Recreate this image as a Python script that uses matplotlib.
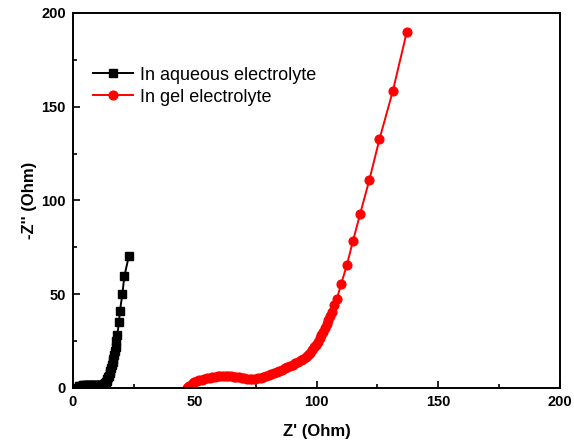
import matplotlib.pyplot as plt
from matplotlib.ticker import MultipleLocator

plt.rcParams['font.family'] = ['Liberation Sans', 'DejaVu Sans']

# Nyquist data, aqueous electrolyte
aq_re = [2.0, 2.3, 2.7, 3.1, 3.6, 4.1, 4.6, 5.1, 5.6, 6.1,
         6.6, 7.1, 7.6, 8.1, 8.6, 9.1, 9.6, 10.1, 10.6, 11.1,
         11.6, 12.1, 12.5, 12.9, 13.3, 13.6, 13.9, 14.2, 14.5, 14.8,
         15.1, 15.4, 15.7, 16.0, 16.3, 16.6, 16.9, 17.2, 17.5, 17.8,
         18.2, 18.9, 19.3, 20.3, 21.1, 23.0]
aq_im = [0.0, 0.4, 0.8, 1.1, 1.3, 1.5, 1.6, 1.7, 1.7, 1.7,
         1.7, 1.6, 1.6, 1.5, 1.5, 1.5, 1.4, 1.4, 1.4, 1.4,
         1.5, 1.6, 1.8, 2.1, 2.6, 3.2, 3.9, 4.7, 5.6, 6.6,
         7.8, 9.1, 10.5, 12.0, 13.7, 15.5, 17.5, 19.7, 22.1, 24.8,
         28.0, 35.0, 41.0, 50.0, 59.5, 70.6]

# Nyquist data, gel electrolyte
gel_re = [47.0, 47.3, 47.8, 48.4, 49.1, 49.9, 50.8, 51.8, 52.8, 53.9,
          55.0, 56.1, 57.2, 58.3, 59.4, 60.5, 61.6, 62.7, 63.8, 64.9,
          66.0, 67.1, 68.2, 69.3, 70.4, 71.5, 72.6, 73.7, 74.8,
          75.9, 77.0, 78.1, 79.2, 80.3, 81.4, 82.5, 83.6, 84.7, 85.8,
          86.9, 88.0, 89.1, 90.2, 91.3, 92.4, 93.5, 94.5, 95.5, 96.4,
          97.3, 98.2, 99.0, 99.8, 100.6, 101.3, 102.0, 102.7, 103.4, 104.1,
          104.8, 105.5, 106.2,
          107.2, 108.3, 110.1, 112.4, 114.9, 117.9, 121.6, 125.8, 131.3, 137.0]
gel_im = [0.0, 0.6, 1.2, 1.8, 2.4, 3.0, 3.5, 4.0, 4.4, 4.8,
          5.2, 5.5, 5.8, 6.0, 6.2, 6.3, 6.4, 6.4, 6.3, 6.2,
          6.0, 5.8, 5.6, 5.3, 5.1, 4.9, 4.8, 4.7, 4.8,
          5.1, 5.5, 6.0, 6.5, 7.0, 7.5, 8.0, 8.6, 9.2, 9.8,
          10.4, 11.0, 11.7, 12.4, 13.1, 13.9, 14.7, 15.6, 16.6, 17.7,
          18.9, 20.2, 21.6, 23.1, 24.7, 26.4, 28.2, 30.1, 32.1, 34.2,
          36.4, 38.4, 40.5,
          44.0, 47.4, 55.5, 65.4, 78.2, 92.9, 110.7, 132.6, 158.4, 189.7]

fig = plt.figure(figsize=(5.74, 4.48), dpi=100)
ax = fig.add_axes([0.127, 0.134, 0.849, 0.837])

ax.plot(aq_re, aq_im, color='black', marker='s', markersize=5.4, lw=1.4,
        label='In aqueous electrolyte')
ax.plot(gel_re, gel_im, color='red', marker='o', markersize=6.3, lw=1.4,
        label='In gel electrolyte')

ax.set_xlim(0, 200)
ax.set_ylim(0, 200)
ax.xaxis.set_major_locator(MultipleLocator(50))
ax.xaxis.set_minor_locator(MultipleLocator(25))
ax.yaxis.set_major_locator(MultipleLocator(50))
ax.yaxis.set_minor_locator(MultipleLocator(25))
ax.tick_params(which='both', direction='in', width=1.2, top=False, right=False)
ax.tick_params(which='major', length=5, labelsize=10.5, pad=5)
ax.tick_params(which='minor', length=3)
for lab in ax.get_xticklabels() + ax.get_yticklabels():
    lab.set_fontweight('bold')
for sp in ax.spines.values():
    sp.set_linewidth(1.4)

ax.set_xlabel("Z' (Ohm)", fontsize=12, fontweight='bold', labelpad=11)
ax.set_ylabel("-Z'' (Ohm)", fontsize=12, fontweight='bold', labelpad=3)

ax.legend(loc='upper left', bbox_to_anchor=(0.008, 0.9), frameon=False,
          fontsize=13, handlelength=2.2, handletextpad=0.4, labelspacing=0.27)

fig.savefig('out.png', dpi=100)
